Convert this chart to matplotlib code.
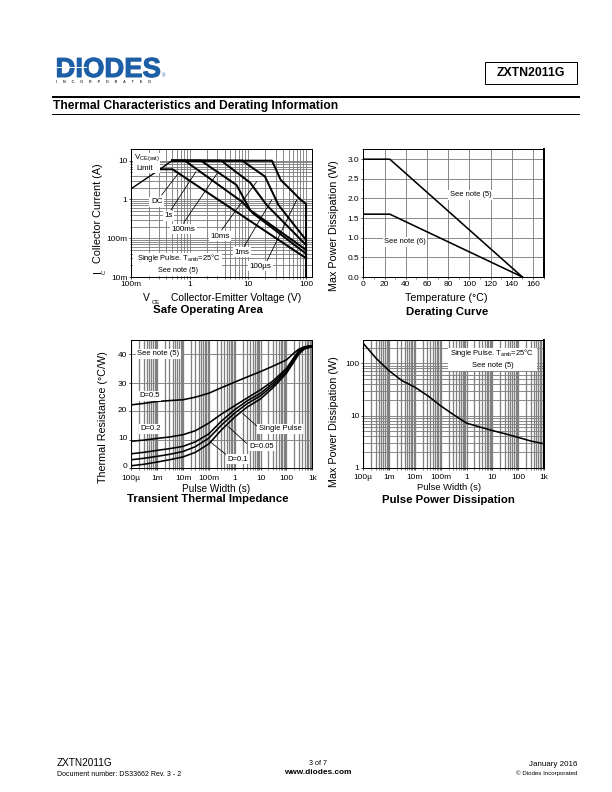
import matplotlib
matplotlib.use('Agg')
import matplotlib.pyplot as plt
import matplotlib.patheffects as pe
from matplotlib.patches import Rectangle
from matplotlib.ticker import LogLocator, FixedLocator, NullFormatter, FixedFormatter, MultipleLocator
from matplotlib.transforms import ScaledTranslation

plt.rcParams['font.family'] = ['Liberation Sans', 'DejaVu Sans']
plt.rcParams['mathtext.default'] = 'regular'

# ---------- data ----------
soa_limit_v = [0.1, 0.31, 0.5]
soa_limit_i = [1.9, 6, 10]
soa_dc_v = [0.31, 0.51, 100]
soa_dc_i = [6, 6, 0.0305]
soa_1s_v = [0.5, 0.83, 7.9, 12.5, 100]
soa_1s_i = [10, 10, 0.88, 0.43, 0.04]
soa_100ms_v = [0.5, 1.57, 6.4, 11, 100]
soa_100ms_i = [10, 10, 2.36, 0.53, 0.05]
soa_10ms_v = [0.5, 3.5, 11, 21, 100]
soa_10ms_i = [10, 10, 2.7, 0.72, 0.067]
soa_1ms_v = [0.5, 8, 19.7, 33.6, 100]
soa_1ms_i = [10, 10, 3.9, 0.72, 0.09]
soa_100us_v = [0.5, 26, 36.7, 84, 100, 100]
soa_100us_i = [10, 10, 3.2, 0.93, 0.77, 0.01]
soa_x_ticks = [0.1, 1, 10, 100]
soa_x_labels = ['100m', '1', '10', '100']
soa_y_ticks = [0.01, 0.1, 1, 10]
soa_y_labels = ['10m', '100m', '1', '10']

temp_c = [0, 25, 150]
derate_note5 = [3.0, 3.0, 0.0]
derate_note6 = [1.6, 1.6, 0.0]
derate_x_ticks = [0, 20, 40, 60, 80, 100, 120, 140, 160]
derate_y_ticks = [0.0, 0.5, 1.0, 1.5, 2.0, 2.5, 3.0]

pulse_ticks = [1e-4, 1e-3, 1e-2, 1e-1, 1, 10, 100, 1000]
pulse_labels = ['100µ', '1m', '10m', '100m', '1', '10', '100', '1k']
z_t = [1e-4, 3e-4, 1e-3, 3e-3, 1e-2, 3e-2, 1e-1, 0.3, 1, 3, 10, 30, 100, 200, 300, 500, 1000]
z_d05 = [22.2, 22.7, 23.4, 23.7, 24.0, 24.9, 26.3, 28.2, 30.2, 32.0, 33.9, 35.8, 38.0, 40.5, 41.8, 42.6, 43.0]
z_d02 = [9.4, 9.8, 10.4, 10.9, 11.7, 13.1, 15.8, 18.9, 21.9, 24.6, 27.5, 30.6, 35.0, 39.0, 41.3, 42.6, 43.0]
z_d01 = [5.0, 5.5, 6.2, 6.8, 7.6, 9.2, 12.0, 16.4, 20.5, 23.6, 26.3, 29.8, 34.5, 38.6, 41.0, 42.3, 42.9]
z_d005 = [2.9, 3.4, 4.1, 4.8, 5.8, 7.5, 10.5, 15.0, 19.3, 22.6, 25.4, 29.0, 33.9, 38.0, 40.6, 42.1, 42.8]
z_single = [0.8, 1.3, 2.1, 2.9, 3.9, 5.5, 8.5, 13.3, 17.9, 21.4, 24.3, 28.2, 33.3, 37.5, 40.0, 41.9, 42.6]
z_y_ticks = [0, 10, 20, 30, 40]

ppd_t = [1e-4, 3.16e-4, 1e-3, 3.16e-3, 1e-2, 3.16e-2, 1e-1, 3.16e-1, 1, 3.16, 10, 31.6, 100, 316, 1000]
ppd_w = [240, 124, 72, 46.6, 35, 24, 15.4, 10.4, 7.2, 6.1, 5.2, 4.5, 3.84, 3.27, 2.9]
ppd_y_ticks = [1, 10, 100]
ppd_y_labels = ['1', '10', '100']

# ---------- layout helpers ----------
W, H = 612, 792
fig = plt.figure(figsize=(8.5, 11), dpi=72, facecolor='white')
GRID = '#808080'
AXIS_SIZE = 10.8
TITLE_SIZE = 11.4


def fx(x):
    return x / W


def fy(y):
    return 1 - y / H


def make_axes(l, r, t, b, xpad=2):
    ax = fig.add_axes([fx(l), fy(b), (r - l) / W, (b - t) / H])
    ax.set_axisbelow(True)
    for s in ax.spines.values():
        s.set_linewidth(1)
        s.set_zorder(5)
    ax.tick_params(which='major', length=2, width=0.7, labelsize=8.3, pad=2)
    ax.tick_params(which='minor', length=1.5, width=0.5)
    ax.tick_params(axis='x', which='major', pad=xpad)
    return ax


def label(x, y, s, size=8, weight='normal', ha='center', va='center', rot=0, box=False, z=20):
    kw = {}
    if box:
        kw['bbox'] = dict(facecolor='white', edgecolor='none', pad=1.5)
    return fig.text(fx(x), fy(y), s, fontsize=size, fontweight=weight, ha=ha, va=va,
                    rotation=rot, zorder=z, color='black', **kw)


def leader(ax, x0, y0, x1, y1):
    ax.annotate('', xy=(fx(x1), fy(y1)), xytext=(fx(x0), fy(y0)),
                xycoords='figure fraction', textcoords='figure fraction',
                arrowprops=dict(arrowstyle='-', color='black', lw=0.8, shrinkA=0, shrinkB=0),
                zorder=8)


def log_grid(ax, axis):
    a = ax.xaxis if axis == 'x' else ax.yaxis
    a.set_minor_locator(LogLocator(base=10, subs=range(2, 10), numticks=30))
    a.set_minor_formatter(NullFormatter())


def shift_labels(ax, offsets):
    for lab, dy in zip(ax.get_yticklabels(), offsets):
        lab.set_transform(lab.get_transform() + ScaledTranslation(0, dy / 72, fig.dpi_scale_trans))


# ---------- header ----------
BLUE = '#1c5fa6'
logo = fig.text(fx(55.5), fy(77), 'DIODES', fontsize=27.5, fontweight='bold', color=BLUE,
                ha='left', va='baseline', zorder=2)
logo.set_path_effects([pe.withStroke(linewidth=1, foreground=BLUE)])
fig.add_artist(Rectangle((fx(57), fy(68.3)), 30 / W, 1.3 / H, transform=fig.transFigure,
                         facecolor='white', edgecolor='none', zorder=3))
fig.text(fx(56), fy(81.7), (' ' * 6).join('INCORPORATED'), fontsize=3.6, fontweight='bold',
         color='#333333', ha='left', va='center')
fig.text(fx(161.5), fy(76), '®', fontsize=4.5, color=BLUE, ha='left', va='center')
fig.add_artist(Rectangle((fx(485), fy(84.3)), 92 / W, 22.3 / H, transform=fig.transFigure,
                         facecolor='white', edgecolor='black', lw=1))
label(531, 73, 'ZXTN2011G', size=12.2, weight='bold')
fig.add_artist(Rectangle((fx(52), fy(98)), 528 / W, 2 / H, transform=fig.transFigure,
                         facecolor='black', edgecolor='none'))
fig.add_artist(Rectangle((fx(52), fy(115)), 528 / W, 1 / H, transform=fig.transFigure,
                         facecolor='black', edgecolor='none'))
label(53, 105.5, 'Thermal Characteristics and Derating Information', size=12, weight='bold', ha='left')

# ---------- safe operating area ----------
ax1 = make_axes(131.3, 312.3, 149, 277)
ax1.set_xscale('log')
ax1.set_yscale('log')
ax1.set_xlim(0.1, 128)
ax1.set_ylim(0.01, 20)
ax1.xaxis.set_major_locator(FixedLocator(soa_x_ticks))
ax1.xaxis.set_major_formatter(FixedFormatter(soa_x_labels))
ax1.yaxis.set_major_locator(FixedLocator(soa_y_ticks))
ax1.yaxis.set_major_formatter(FixedFormatter(soa_y_labels))
log_grid(ax1, 'x')
log_grid(ax1, 'y')
ax1.grid(True, which='both', color=GRID, lw=0.9)
ax1.plot(soa_limit_v, soa_limit_i, color='black', lw=1.4, zorder=3)
for xs, ys in [(soa_dc_v, soa_dc_i), (soa_1s_v, soa_1s_i), (soa_100ms_v, soa_100ms_i),
               (soa_10ms_v, soa_10ms_i), (soa_1ms_v, soa_1ms_i), (soa_100us_v, soa_100us_i)]:
    ax1.plot(xs, ys, color='black', lw=2, zorder=3, solid_joinstyle='round')
sx = lambda z: z / 3 + 90
sy = lambda z: z / 3 + 130
for a, b, c, d in [(215, 195, 265, 130), (243, 240, 318, 125), (280, 280, 385, 125),
                   (395, 300, 500, 155), (462, 350, 545, 210), (530, 395, 620, 210)]:
    leader(ax1, sx(a), sy(b), sx(c), sy(d))
fig.add_artist(Rectangle((fx(sx(130)), fy(sy(130))), 80 / 3 / W, 62 / 3 / H, transform=fig.transFigure,
                         facecolor='white', edgecolor='none', zorder=9))
fig.add_artist(Rectangle((fx(133), fy(275.7)), 89 / W, 22.7 / H, transform=fig.transFigure,
                         facecolor='white', edgecolor='none', zorder=9))
label(sx(170), sy(83), r'V$_{CE(sat)}$', size=8)
label(sx(165), sy(116), 'Limit', size=8)
for z, w, s in [(200, 215, 'DC'), (235, 257, '1s'), (280, 298, '100ms'), (390, 319, '10ms'),
                (457, 367, '1ms'), (512, 409, '100µs')]:
    label(sx(z), sy(w), s, size=8, box=True)
label(178.5, sy(385), r'Single Pulse. T$_{amb}$=25°C', size=7.5)
label(178, sy(422), 'See note (5)', size=7.4)
label(98, 213, 'Collector Current (A)', size=AXIS_SIZE, rot=90)
label(98, 271.5, 'I', size=AXIS_SIZE, rot=90)
label(104, 272, 'C', size=6, rot=90)
label(146.7, 298, 'V', size=10.2)
label(sx(197), sy(518), 'CE', size=6)
label(236, 298, 'Collector-Emitter Voltage (V)', size=10.2)
label(207.7, 310, 'Safe Operating Area', size=TITLE_SIZE, weight='bold')

# ---------- derating curve ----------
ax2 = make_axes(363.3, 544, 149, 277)
ax2.set_xlim(0, 170.4)
ax2.set_ylim(0, 3.26)
ax2.set_xticks(derate_x_ticks)
ax2.set_xticklabels([str(v) for v in derate_x_ticks])
ax2.set_yticks(derate_y_ticks)
ax2.set_yticklabels([f'{v:.1f}' for v in derate_y_ticks])
ax2.xaxis.set_minor_locator(MultipleLocator(10))
ax2.yaxis.set_minor_locator(MultipleLocator(0.25))
ax2.grid(True, which='major', color=GRID, lw=0.9)
ax2.spines['right'].set_linewidth(2)
ax2.plot(temp_c, derate_note5, color='black', lw=1.6, zorder=3)
ax2.plot(temp_c, derate_note6, color='black', lw=1.6, zorder=3)
label(320 + 452 / 3, sy(194), 'See note (5)', size=7.5, box=True)
label(320 + 255 / 3, sy(335), 'See note (6)', size=7.5, box=True)
label(334, 226, 'Max Power Dissipation (W)', size=AXIS_SIZE, rot=90)
label(446, 298, 'Temperature (°C)', size=10.6)
label(447, 312, 'Derating Curve', size=TITLE_SIZE, weight='bold')

# ---------- transient thermal impedance ----------
ax3 = make_axes(131.3, 312.3, 340, 468, xpad=5)
ax3.set_xscale('log')
ax3.set_xlim(1e-4, 1e3)
ax3.set_ylim(0, 45)
ax3.xaxis.set_major_locator(FixedLocator(pulse_ticks))
ax3.xaxis.set_major_formatter(FixedFormatter(pulse_labels))
log_grid(ax3, 'x')
ax3.set_yticks(z_y_ticks)
ax3.set_yticklabels([str(v) for v in z_y_ticks])
ax3.grid(True, which='both', axis='x', color=GRID, lw=1.3)
ax3.grid(True, which='major', axis='y', color=GRID, lw=0.9)
for ys in [z_d05, z_d02, z_d01, z_d005, z_single]:
    ax3.plot(z_t, ys, color='black', lw=1.6, zorder=3, solid_joinstyle='round')
tx = lambda z: z / 3 + 90
ty = lambda z: z / 3 + 330
for a, b, c, d in [(500, 288, 458, 250), (470, 340, 415, 290), (410, 375, 360, 335)]:
    leader(ax3, tx(a), ty(b), tx(c), ty(d))
for z, w, s in [(205, 71, 'See note (5)'), (178, 197, 'D=0.5'), (183, 297, 'D=0.2'),
                (570, 296, 'Single Pulse'), (516, 349, 'D=0.05'), (443, 388, 'D=0.1')]:
    label(tx(z), ty(w), s, size=7.6, box=True)
label(102.7, 417, 'Thermal Resistance (°C/W)', size=AXIS_SIZE, rot=90)
label(216, 488.5, 'Pulse Width (s)', size=10)
label(208, 499, 'Transient Thermal Impedance', size=TITLE_SIZE, weight='bold')
shift_labels(ax3, [3, 2.3, 1.3, -0.7, 0])

# ---------- pulse power dissipation ----------
ax4 = make_axes(363.3, 544, 340, 468, xpad=4)
ax4.set_xscale('log')
ax4.set_yscale('log')
ax4.set_xlim(1e-4, 1e3)
ax4.set_ylim(1, 279)
ax4.xaxis.set_major_locator(FixedLocator(pulse_ticks))
ax4.xaxis.set_major_formatter(FixedFormatter(pulse_labels))
ax4.yaxis.set_major_locator(FixedLocator(ppd_y_ticks))
ax4.yaxis.set_major_formatter(FixedFormatter(ppd_y_labels))
log_grid(ax4, 'x')
log_grid(ax4, 'y')
ax4.grid(True, which='both', axis='x', color=GRID, lw=1.3)
ax4.grid(True, which='both', axis='y', color=GRID, lw=0.9)
ax4.spines['right'].set_linewidth(2)
ax4.plot(ppd_t, ppd_w, color='black', lw=1.6, zorder=3, solid_joinstyle='round')
fig.add_artist(Rectangle((fx(320 + 385 / 3), fy(ty(122))), 265 / 3 / W, 67 / 3 / H, transform=fig.transFigure,
                         facecolor='white', edgecolor='none', zorder=9))
label(320 + 517 / 3, ty(68), r'Single Pulse. T$_{amb}$=25°C', size=7.5)
label(320 + 519 / 3, ty(107), 'See note (5)', size=7.5)
label(334, 421.7, 'Max Power Dissipation (W)', size=AXIS_SIZE, rot=90)
label(449, 488, 'Pulse Width (s)', size=9.4)
label(448, 500, 'Pulse Power Dissipation', size=TITLE_SIZE, weight='bold')

# ---------- footer ----------
label(57, 763, 'ZXTN2011G', size=10, ha='left')
label(57, 774, 'Document number: DS33662 Rev. 3 - 2', size=7, ha='left')
label(318, 763.7, '3 of 7', size=7.2)
label(318, 772.7, 'www.diodes.com', size=8.2, weight='bold')
label(577.5, 765, 'January 2016', size=8, ha='right')
label(577.5, 772.7, '© Diodes Incorporated', size=6.1, ha='right')

fig.savefig('out.png', dpi=72, facecolor='white')
